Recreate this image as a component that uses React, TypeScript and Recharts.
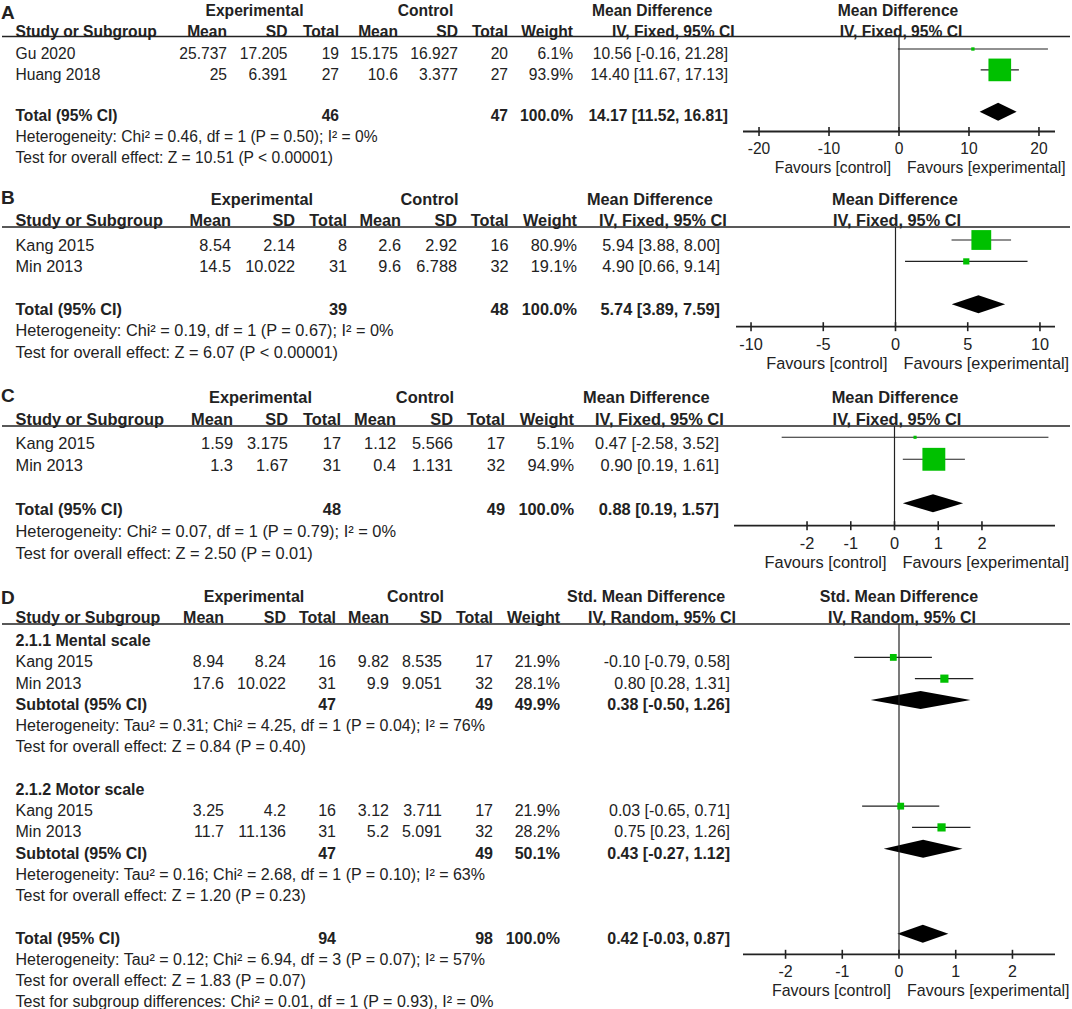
import React from 'react';
import { ScatterChart, Scatter, XAxis, YAxis, ReferenceLine, ReferenceArea, ErrorBar } from 'recharts';

const FONT = '"Liberation Sans", Arial, Helvetica, sans-serif';
const INK = '#222';
const GREEN = '#00c000';

// ---------- A ----------
const studiesA = ['Gu 2020', 'Huang 2018'];
const expMeanA = [25.737, 25];
const expSdA = [17.205, 6.391];
const expNA = [19, 27];
const ctlMeanA = [15.175, 10.6];
const ctlSdA = [16.927, 3.377];
const ctlNA = [20, 27];
const weightA = [6.1, 93.9];
const mdA = [10.56, 14.4];
const loA = [-0.16, 11.67];
const hiA = [21.28, 17.13];
const pooledA = [14.17, 11.52, 16.81];
const totalNA = [46, 47];
const notesA = ['Heterogeneity: Chi² = 0.46, df = 1 (P = 0.50); I² = 0%', 'Test for overall effect: Z = 10.51 (P < 0.00001)'];
const ticksA = [-20, -10, 0, 10, 20];

// ---------- B ----------
const studiesB = ['Kang 2015', 'Min 2013'];
const expMeanB = [8.54, 14.5];
const expSdB = [2.14, 10.022];
const expNB = [8, 31];
const ctlMeanB = [2.6, 9.6];
const ctlSdB = [2.92, 6.788];
const ctlNB = [16, 32];
const weightB = [80.9, 19.1];
const mdB = [5.94, 4.9];
const loB = [3.88, 0.66];
const hiB = [8.0, 9.14];
const pooledB = [5.74, 3.89, 7.59];
const totalNB = [39, 48];
const notesB = ['Heterogeneity: Chi² = 0.19, df = 1 (P = 0.67); I² = 0%', 'Test for overall effect: Z = 6.07 (P < 0.00001)'];
const ticksB = [-10, -5, 0, 5, 10];

// ---------- C ----------
const studiesC = ['Kang 2015', 'Min 2013'];
const expMeanC = [1.59, 1.3];
const expSdC = [3.175, 1.67];
const expNC = [17, 31];
const ctlMeanC = [1.12, 0.4];
const ctlSdC = [5.566, 1.131];
const ctlNC = [17, 32];
const weightC = [5.1, 94.9];
const mdC = [0.47, 0.9];
const loC = [-2.58, 0.19];
const hiC = [3.52, 1.61];
const pooledC = [0.88, 0.19, 1.57];
const totalNC = [48, 49];
const notesC = ['Heterogeneity: Chi² = 0.07, df = 1 (P = 0.79); I² = 0%', 'Test for overall effect: Z = 2.50 (P = 0.01)'];
const ticksC = [-2, -1, 0, 1, 2];

// ---------- D ----------
const groupsD = ['2.1.1 Mental scale', '2.1.2 Motor scale'];
const studiesD = [['Kang 2015', 'Min 2013'], ['Kang 2015', 'Min 2013']];
const expMeanD = [[8.94, 17.6], [3.25, 11.7]];
const expSdD = [[8.24, 10.022], [4.2, 11.136]];
const expND = [[16, 31], [16, 31]];
const ctlMeanD = [[9.82, 9.9], [3.12, 5.2]];
const ctlSdD = [[8.535, 9.051], [3.711, 5.091]];
const ctlND = [[17, 32], [17, 32]];
const weightD = [[21.9, 28.1], [21.9, 28.2]];
const mdD = [[-0.1, 0.8], [0.03, 0.75]];
const loD = [[-0.79, 0.28], [-0.65, 0.23]];
const hiD = [[0.58, 1.31], [0.71, 1.26]];
const subPooledD = [[0.38, -0.5, 1.26], [0.43, -0.27, 1.12]];
const subND = [[47, 49], [47, 49]];
const subWeightD = [49.9, 50.1];
const subNotesD = [
  ['Heterogeneity: Tau² = 0.31; Chi² = 4.25, df = 1 (P = 0.04); I² = 76%', 'Test for overall effect: Z = 0.84 (P = 0.40)'],
  ['Heterogeneity: Tau² = 0.16; Chi² = 2.68, df = 1 (P = 0.10); I² = 63%', 'Test for overall effect: Z = 1.20 (P = 0.23)'],
];
const pooledD = [0.42, -0.03, 0.87];
const totalND = [94, 98];
const notesD = [
  'Heterogeneity: Tau² = 0.12; Chi² = 6.94, df = 3 (P = 0.07); I² = 57%',
  'Test for overall effect: Z = 1.83 (P = 0.07)',
  'Test for subgroup differences: Chi² = 0.01, df = 1 (P = 0.93), I² = 0%',
];
const ticksD = [-2, -1, 0, 1, 2];

type Row =
  | { kind: 'study'; r: number; name: string; em: number; es: number; en: number; cm: number; cs: number; cn: number; w: number; md: number; lo: number; hi: number }
  | { kind: 'pool'; r: number; label: string; en: number; cn: number; w: number; md: number; lo: number; hi: number }
  | { kind: 'head'; r: number; label: string }
  | { kind: 'note'; r: number; label: string };

function simpleRows(names: string[], em: number[], es: number[], en: number[], cm: number[], cs: number[], cn: number[],
  w: number[], md: number[], lo: number[], hi: number[], pooled: number[], totN: number[], notes: string[]): Row[] {
  const rows: Row[] = names.map((name, i) => ({
    kind: 'study', r: i, name, em: em[i], es: es[i], en: en[i], cm: cm[i], cs: cs[i], cn: cn[i], w: w[i], md: md[i], lo: lo[i], hi: hi[i],
  }));
  const base = names.length + 1;
  rows.push({ kind: 'pool', r: base, label: 'Total (95% CI)', en: totN[0], cn: totN[1], w: 100, md: pooled[0], lo: pooled[1], hi: pooled[2] });
  notes.forEach((n, i) => rows.push({ kind: 'note', r: base + 1 + i, label: n }));
  return rows;
}

function rowsD(): Row[] {
  const rows: Row[] = [];
  let r = 0;
  groupsD.forEach((g, gi) => {
    rows.push({ kind: 'head', r: r++, label: g });
    studiesD[gi].forEach((name, i) => {
      rows.push({
        kind: 'study', r: r++, name, em: expMeanD[gi][i], es: expSdD[gi][i], en: expND[gi][i], cm: ctlMeanD[gi][i], cs: ctlSdD[gi][i],
        cn: ctlND[gi][i], w: weightD[gi][i], md: mdD[gi][i], lo: loD[gi][i], hi: hiD[gi][i],
      });
    });
    const p = subPooledD[gi];
    rows.push({ kind: 'pool', r: r++, label: 'Subtotal (95% CI)', en: subND[gi][0], cn: subND[gi][1], w: subWeightD[gi], md: p[0], lo: p[1], hi: p[2] });
    subNotesD[gi].forEach((n) => rows.push({ kind: 'note', r: r++, label: n }));
    r++;
  });
  rows.push({ kind: 'pool', r: r++, label: 'Total (95% CI)', en: totalND[0], cn: totalND[1], w: 100, md: pooledD[0], lo: pooledD[1], hi: pooledD[2] });
  notesD.forEach((n) => rows.push({ kind: 'note', r: r++, label: n }));
  return rows;
}

interface Layout {
  letter: string; letterY: number; line: number; h1: number; h2: number;
  fs: number; rowH: number; first: number; lift: number;
  expMean: number; expSd: number; expTot: number; ctlMean: number; ctlSd: number; ctlTot: number; weight: number; ci: number;
  expC: number; ctlC: number; md1: number; iv1: number; mdR: number; ivR: number;
  mdTitle: string; ivTitle: string;
  axL: number; axR: number; axOff: number; half: number; ticks: number[];
}

const layA: Layout = {
  letter: 'A', letterY: 12, line: 36.5, h1: 10, h2: 31.5, fs: 15.6, rowH: 20.9, first: 16.5, lift: 4.5,
  expMean: 227, expSd: 287.5, expTot: 339, ctlMean: 398, ctlSd: 458, ctlTot: 508, weight: 573, ci: 728,
  expC: 254.5, ctlC: 425.5, md1: 592, iv1: 612, mdR: 898, ivR: 901,
  mdTitle: 'Mean Difference', ivTitle: 'IV, Fixed, 95% CI',
  axL: 743, axR: 1055, axOff: 94.5, half: 22.29, ticks: ticksA,
};
const layB: Layout = {
  letter: 'B', letterY: 197.5, line: 227, h1: 199, h2: 220, fs: 16.3, rowH: 21.4, first: 18, lift: 5,
  expMean: 231, expSd: 295, expTot: 347, ctlMean: 401, ctlSd: 457, ctlTot: 508.5, weight: 577, ci: 720,
  expC: 262, ctlC: 429.5, md1: 587, iv1: 599, mdR: 895, ivR: 897,
  mdTitle: 'Mean Difference', ivTitle: 'IV, Fixed, 95% CI',
  axL: 736, axR: 1055, axOff: 99.7, half: 11.04, ticks: ticksB,
};
const layC: Layout = {
  letter: 'C', letterY: 395, line: 426, h1: 397, h2: 419, fs: 16.4, rowH: 22, first: 17.3, lift: 6,
  expMean: 233, expSd: 288, expTot: 341, ctlMean: 396, ctlSd: 453, ctlTot: 505, weight: 574, ci: 719,
  expC: 260.5, ctlC: 425, md1: 583, iv1: 595, mdR: 895, ivR: 897,
  mdTitle: 'Mean Difference', ivTitle: 'IV, Fixed, 95% CI',
  axL: 734, axR: 1055, axOff: 99.7, half: 3.67, ticks: ticksC,
};
const layD: Layout = {
  letter: 'D', letterY: 597, line: 624, h1: 596, h2: 617.3, fs: 16, rowH: 21.25, first: 16.45, lift: 4.3,
  expMean: 224, expSd: 286, expTot: 336, ctlMean: 389, ctlSd: 442, ctlTot: 493, weight: 560, ci: 730,
  expC: 254, ctlC: 415.5, md1: 567, iv1: 588, mdR: 899, ivR: 902,
  mdTitle: 'Std. Mean Difference', ivTitle: 'IV, Random, 95% CI',
  axL: 743, axR: 1055, axOff: 330.3, half: 2.75, ticks: ticksD,
};

const panels: { lay: Layout; rows: Row[] }[] = [
  { lay: layA, rows: simpleRows(studiesA, expMeanA, expSdA, expNA, ctlMeanA, ctlSdA, ctlNA, weightA, mdA, loA, hiA, pooledA, totalNA, notesA) },
  { lay: layB, rows: simpleRows(studiesB, expMeanB, expSdB, expNB, ctlMeanB, ctlSdB, ctlNB, weightB, mdB, loB, hiB, pooledB, totalNB, notesB) },
  { lay: layC, rows: simpleRows(studiesC, expMeanC, expSdC, expNC, ctlMeanC, ctlSdC, ctlNC, weightC, mdC, loC, hiC, pooledC, totalNC, notesC) },
  { lay: layD, rows: rowsD() },
];

const f2 = (v: number) => v.toFixed(2);
const ciText = (m: number, l: number, h: number) => `${f2(m)} [${f2(l)}, ${f2(h)}]`;

function Txt({ x, y, fs, bold, anchor = 'start', children }: { x: number; y: number; fs: number; bold?: boolean; anchor?: 'start' | 'middle' | 'end'; children: React.ReactNode }) {
  return (
    <text x={x} y={y + fs * 0.36} fontSize={fs} fontWeight={bold ? 700 : 400} textAnchor={anchor} fill={INK} fontFamily={FONT}>
      {children}
    </text>
  );
}

function TableText({ lay, rows }: { lay: Layout; rows: Row[] }) {
  const fs = lay.fs;
  const yOf = (r: number) => lay.line + lay.first + r * lay.rowH;
  const L = 15.5;
  return (
    <g>
      <Txt x={1} y={lay.letterY} fs={19} bold>{lay.letter}</Txt>
      <Txt x={lay.expC} y={lay.h1} fs={fs} bold anchor="middle">Experimental</Txt>
      <Txt x={lay.ctlC} y={lay.h1} fs={fs} bold anchor="middle">Control</Txt>
      <Txt x={lay.md1} y={lay.h1} fs={fs} bold>{lay.mdTitle}</Txt>
      <Txt x={lay.mdR} y={lay.h1} fs={fs} bold anchor="middle">{lay.mdTitle}</Txt>

      <Txt x={L} y={lay.h2} fs={fs} bold>Study or Subgroup</Txt>
      <Txt x={lay.expMean} y={lay.h2} fs={fs} bold anchor="end">Mean</Txt>
      <Txt x={lay.expSd} y={lay.h2} fs={fs} bold anchor="end">SD</Txt>
      <Txt x={lay.expTot} y={lay.h2} fs={fs} bold anchor="end">Total</Txt>
      <Txt x={lay.ctlMean} y={lay.h2} fs={fs} bold anchor="end">Mean</Txt>
      <Txt x={lay.ctlSd} y={lay.h2} fs={fs} bold anchor="end">SD</Txt>
      <Txt x={lay.ctlTot} y={lay.h2} fs={fs} bold anchor="end">Total</Txt>
      <Txt x={lay.weight} y={lay.h2} fs={fs} bold anchor="end">Weight</Txt>
      <Txt x={lay.iv1} y={lay.h2} fs={fs} bold>{lay.ivTitle}</Txt>
      <Txt x={lay.ivR} y={lay.h2} fs={fs} bold anchor="middle">{lay.ivTitle}</Txt>
      <line x1={2} x2={1070} y1={lay.line} y2={lay.line} stroke={INK} strokeWidth={1.4} />

      {rows.map((row, i) => {
        const y = yOf(row.r);
        if (row.kind === 'note') return <Txt key={i} x={L} y={y} fs={fs}>{row.label}</Txt>;
        if (row.kind === 'head') return <Txt key={i} x={L} y={y} fs={fs} bold>{row.label}</Txt>;
        if (row.kind === 'pool') {
          return (
            <g key={i}>
              <Txt x={L} y={y} fs={fs} bold>{row.label}</Txt>
              <Txt x={lay.expTot} y={y} fs={fs} bold anchor="end">{row.en}</Txt>
              <Txt x={lay.ctlTot} y={y} fs={fs} bold anchor="end">{row.cn}</Txt>
              <Txt x={lay.weight} y={y} fs={fs} bold anchor="end">{row.w.toFixed(1)}%</Txt>
              <Txt x={lay.ci} y={y} fs={fs} bold anchor="end">{ciText(row.md, row.lo, row.hi)}</Txt>
            </g>
          );
        }
        return (
          <g key={i}>
            <Txt x={L} y={y} fs={fs}>{row.name}</Txt>
            <Txt x={lay.expMean} y={y} fs={fs} anchor="end">{String(row.em)}</Txt>
            <Txt x={lay.expSd} y={y} fs={fs} anchor="end">{String(row.es)}</Txt>
            <Txt x={lay.expTot} y={y} fs={fs} anchor="end">{row.en}</Txt>
            <Txt x={lay.ctlMean} y={y} fs={fs} anchor="end">{String(row.cm)}</Txt>
            <Txt x={lay.ctlSd} y={y} fs={fs} anchor="end">{String(row.cs)}</Txt>
            <Txt x={lay.ctlTot} y={y} fs={fs} anchor="end">{row.cn}</Txt>
            <Txt x={lay.weight} y={y} fs={fs} anchor="end">{row.w.toFixed(1)}%</Txt>
            <Txt x={lay.ci} y={y} fs={fs} anchor="end">{ciText(row.md, row.lo, row.hi)}</Txt>
          </g>
        );
      })}
    </g>
  );
}

function ForestTick(props: any) {
  const { x, y, payload, fs } = props;
  return (
    <g>
      <line x1={x} x2={x} y1={y - 4.5} y2={y + 4.5} stroke={INK} strokeWidth={1.6} />
      <Txt x={x} y={y + 17} fs={fs} anchor="middle">{payload.value}</Txt>
      {payload.value === 0 && (
        <>
          <Txt x={x - 8} y={y + 36} fs={fs} anchor="end">Favours [control]</Txt>
          <Txt x={x + 8} y={y + 36} fs={fs}>Favours [experimental]</Txt>
        </>
      )}
    </g>
  );
}

function Square(props: any) {
  const { cx, cy, payload } = props;
  const s = 2 + 0.22 * payload.w;
  return <rect x={cx - s / 2} y={cy - s / 2} width={s} height={s} fill={GREEN} />;
}

function Diamond(props: any) {
  const { x, y, width, height } = props;
  const pts = `${x},${y + height / 2} ${x + width / 2},${y} ${x + width},${y + height / 2} ${x + width / 2},${y + height}`;
  return <polygon points={pts} fill="#000" />;
}

function Forest({ lay, rows }: { lay: Layout; rows: Row[] }) {
  const padL = 70;
  const padR = 30;
  const plotW = lay.axR - lay.axL;
  const axH = 52;
  const markerFirst = lay.first - lay.lift;
  const yTop = -markerFirst / lay.rowH;
  const yBot = yTop + lay.axOff / lay.rowH;
  const pts = rows
    .filter((r): r is Extract<Row, { kind: 'study' }> => r.kind === 'study')
    .map((s) => ({ md: s.md, row: s.r, w: s.w, err: [s.md - s.lo, s.hi - s.md] }));
  const pools = rows.filter((r): r is Extract<Row, { kind: 'pool' }> => r.kind === 'pool');
  const dh = 9 / lay.rowH;
  return (
    <div style={{ position: 'absolute', left: lay.axL - padL, top: lay.line }}>
      <ScatterChart width={plotW + padL + padR} height={lay.axOff + axH} margin={{ top: 0, right: padR, bottom: 0, left: padL }}>
        <XAxis
          type="number"
          dataKey="md"
          domain={[-lay.half, lay.half]}
          ticks={lay.ticks}
          interval={0}
          allowDataOverflow
          height={axH}
          tickLine={false}
          tickSize={0}
          tickMargin={0}
          axisLine={{ stroke: INK, strokeWidth: 1.8 }}
          tick={(p: any) => <ForestTick {...p} fs={lay.fs} />}
        />
        <YAxis type="number" dataKey="row" domain={[yTop, yBot]} reversed hide width={0} allowDataOverflow />
        <ReferenceLine x={0} stroke={INK} strokeWidth={1.2} />
        {pools.map((p, i) => (
          <ReferenceArea key={i} x1={p.lo} x2={p.hi} y1={p.r - dh} y2={p.r + dh} shape={(sp: any) => <Diamond {...sp} />} />
        ))}
        <Scatter data={pts} shape={(sp: any) => <Square {...sp} />} isAnimationActive={false}>
          <ErrorBar dataKey="err" direction="x" width={0} stroke={INK} strokeWidth={1.1} isAnimationActive={false} />
        </Scatter>
      </ScatterChart>
    </div>
  );
}

export default function App() {
  return (
    <div style={{ position: 'absolute', left: 0, top: 0, width: 1072, height: 1009, background: '#fff', overflow: 'hidden' }}>
      <svg width={1072} height={1009} style={{ position: 'absolute', left: 0, top: 0 }}>
        {panels.map((p, i) => (
          <TableText key={i} lay={p.lay} rows={p.rows} />
        ))}
      </svg>
      {panels.map((p, i) => (
        <Forest key={i} lay={p.lay} rows={p.rows} />
      ))}
    </div>
  );
}
